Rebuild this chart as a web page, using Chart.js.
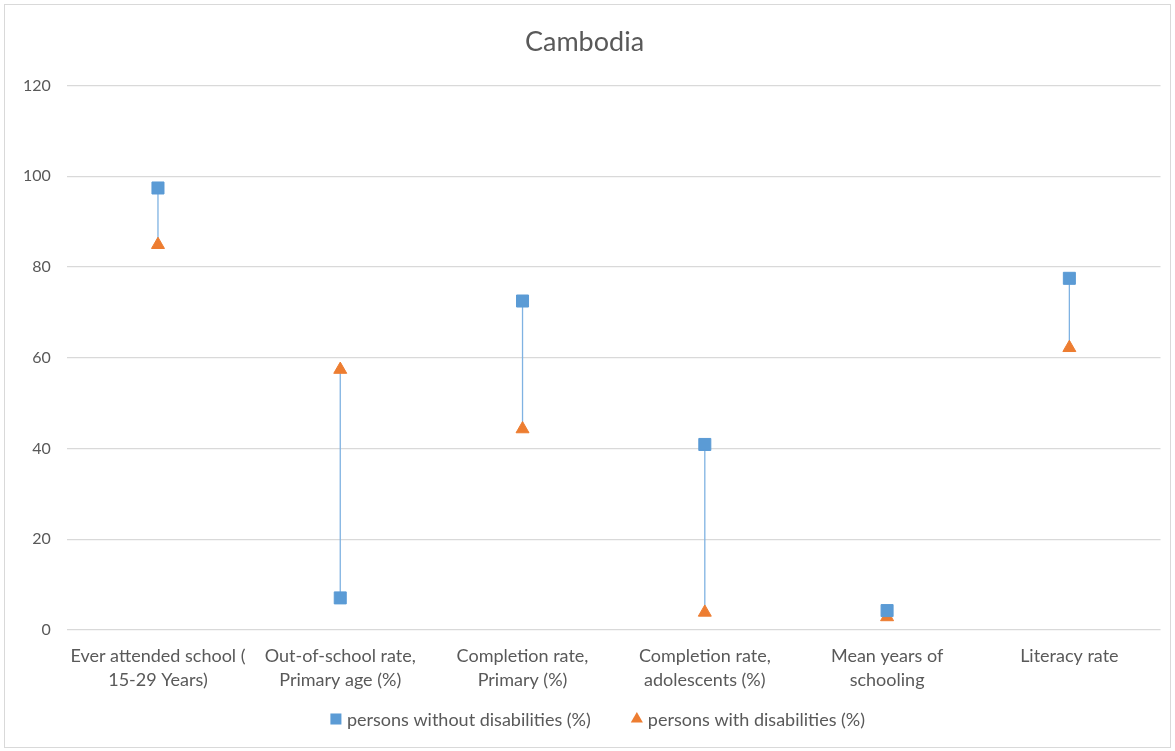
<!DOCTYPE html>
<html>
<head>
<meta charset="utf-8">
<script src="https://cdn.jsdelivr.net/npm/chart.js@4/dist/chart.umd.min.js"></script>
<style>
  html, body { margin: 0; padding: 0; background: #fff; }
  #wrap {
    position: absolute; left: 4px; top: 4px;
    width: 1165px; height: 742px;
    border: 1.5px solid #d9d9d9;
  }
</style>
</head>
<body>
<div id="wrap"><canvas id="chart"></canvas></div>
<script>
const categories = [
    ['Ever attended school (', '15-29 Years)'],
    ['Out-of-school rate,', 'Primary age (%)'],
    ['Completion rate,', 'Primary (%)'],
    ['Completion rate,', 'adolescents (%)'],
    ['Mean years of', 'schooling'],
    ['Literacy rate']
];
const withoutDisabilities = [97.4, 7.1, 72.5, 40.9, 4.3, 77.5];
const withDisabilities = [84.9, 57.4, 44.3, 3.9, 2.9, 62.2];
const yTicks = [0, 20, 40, 60, 80, 100, 120];

// hi-lo lines between the two series, drawn under the markers
const dropLines = {
    id: 'dropLines',
    beforeDatasetsDraw(chart) {
        const a = chart.getDatasetMeta(0).data;
        const b = chart.getDatasetMeta(1).data;
        const ctx = chart.ctx;
        ctx.save();
        ctx.strokeStyle = '#7fb2e2';
        ctx.lineWidth = 1.3;
        for (let i = 0; i < a.length; i++) {
            if (!a[i] || !b[i]) continue;
            ctx.beginPath();
            ctx.moveTo(a[i].x, a[i].y);
            ctx.lineTo(b[i].x, b[i].y);
            ctx.stroke();
        }
        ctx.restore();
    }
};

// Excel-style legend: small marker, tight text, wide gap between entries
const bottomLegend = {
    id: 'bottomLegend',
    afterDraw(chart) {
        const ctx = chart.ctx;
        const font = '18px Lato';
        const markerW = 12, textGap = 5, itemGap = 40;
        ctx.save();
        ctx.font = font;
        const items = chart.data.datasets.map(ds => ({
            text: ds.label,
            style: ds.pointStyle,
            color: ds.backgroundColor,
            w: ctx.measureText(ds.label).width
        }));
        const total = items.reduce((s, it) => s + markerW + textGap + it.w, 0) + itemGap * (items.length - 1);
        let x = chart.width / 2 + 10 - total / 2;
        const y = chart.height - 28;
        items.forEach(it => {
            ctx.fillStyle = it.color;
            Chart.helpers.drawPoint(ctx, {
                pointStyle: it.style,
                rotation: 0,
                radius: it.style === 'rect' ? 7.8 : 7,
                borderWidth: 0
            }, x + markerW / 2, y);
            ctx.fillStyle = '#595959';
            ctx.textBaseline = 'middle';
            ctx.textAlign = 'left';
            ctx.fillText(it.text, x + markerW + textGap, y + 1);
            x += markerW + textGap + it.w + itemGap;
        });
        ctx.restore();
    }
};

const ctx = document.getElementById('chart').getContext('2d');
new Chart(ctx, {
    type: 'line',
    data: {
        labels: categories,
        datasets: [{
            label: 'persons without disabilities (%)',
            data: withoutDisabilities,
            showLine: false,
            pointStyle: 'rect',
            pointRadius: 8.5,
            pointHoverRadius: 8.5,
            backgroundColor: '#5b9bd5',
            borderColor: '#5b9bd5',
            pointBorderWidth: 1
        }, {
            label: 'persons with disabilities (%)',
            data: withDisabilities,
            showLine: false,
            pointStyle: 'triangle',
            pointRadius: 7.5,
            pointHoverRadius: 7.5,
            backgroundColor: '#ed7d31',
            borderColor: '#ed7d31',
            pointBorderWidth: 1
        }]
    },
    options: {
        responsive: true,
        maintainAspectRatio: false,
        animation: false,
        layout: { padding: { left: 2, right: 8, top: 8, bottom: 49 } },
        plugins: {
            title: {
                display: true,
                text: 'Cambodia',
                color: '#595959',
                font: { family: 'Lato', size: 27, weight: 'normal' },
                padding: { top: 13, bottom: 27 }
            },
            legend: { display: false },
            tooltip: { enabled: false }
        },
        scales: {
            y: {
                min: 0,
                max: 120,
                afterBuildTicks: axis => { axis.ticks = yTicks.map(v => ({ value: v })); },
                grid: { color: '#d9d9d9', lineWidth: 1.3, drawTicks: false },
                border: { display: false },
                ticks: {
                    color: '#595959',
                    padding: 16,
                    font: { family: 'Lato', size: 16 }
                }
            },
            x: {
                offset: true,
                grid: { display: false },
                border: { display: false },
                ticks: {
                    color: '#595959',
                    padding: 6,
                    maxRotation: 0,
                    autoSkip: false,
                    font: { family: 'Lato', size: 18, lineHeight: 1.33 }
                }
            }
        }
    },
    plugins: [dropLines, bottomLegend]
});
</script>
</body>
</html>
